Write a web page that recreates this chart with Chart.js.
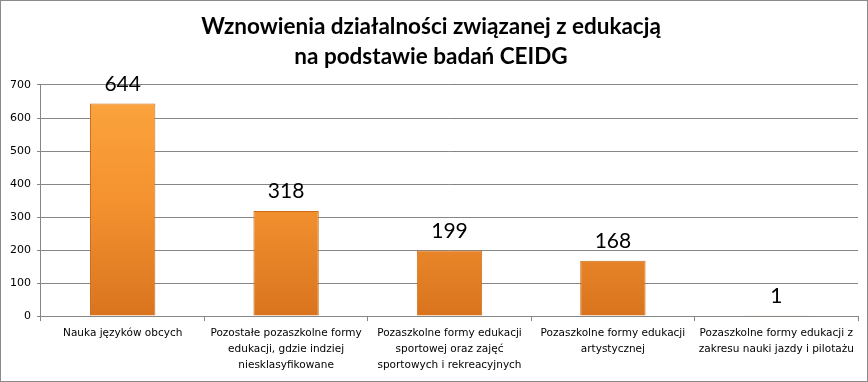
<!DOCTYPE html>
<html>
<head>
<meta charset="utf-8">
<script src="https://cdn.jsdelivr.net/npm/chart.js@4"></script>
<style>
  html,body{margin:0;padding:0;background:#fff}
  #wrap{width:868px;height:382px;box-sizing:border-box;border:1px solid #8a8a8a;position:relative}
  canvas{display:block}
</style>
</head>
<body>
<div id="wrap"><canvas id="chart" width="866" height="380"></canvas></div>
<script>
// ---------- Data ----------
const titleLines = ['Wznowienia działalności związanej z edukacją', 'na podstawie badań CEIDG'];
const categories = [
  'Nauka języków obcych',
  ['Pozostałe pozaszkolne formy', 'edukacji, gdzie indziej', 'niesklasyfikowane'],
  ['Pozaszkolne formy edukacji', 'sportowej oraz zajęć', 'sportowych i rekreacyjnych'],
  ['Pozaszkolne formy edukacji', 'artystycznej'],
  ['Pozaszkolne formy edukacji z', 'zakresu nauki jazdy i pilotażu']
];
const values = [644, 318, 199, 168, 1];
const yTicks = [0, 100, 200, 300, 400, 500, 600, 700];

// ---------- Plugins ----------
// value labels above the bars
const valueLabels = {
  id: 'valueLabels',
  afterDatasetsDraw(chart){
    const ctx = chart.ctx;
    const meta = chart.getDatasetMeta(0);
    ctx.save();
    ctx.font = '21px Lato';
    ctx.fillStyle = '#000';
    ctx.textAlign = 'center';
    ctx.textBaseline = 'bottom';
    meta.data.forEach((bar, i) => {
      ctx.fillText(String(values[i]), bar.x, bar.y - 9);
    });
    ctx.restore();
  }
};

function barFill(context){
  const chart = context.chart;
  const area = chart.chartArea;
  if(!area) return '#f39431';
  const g = chart.ctx.createLinearGradient(0, area.top, 0, area.bottom);
  g.addColorStop(0, '#fca63e');
  g.addColorStop(0.5, '#f49230');
  g.addColorStop(1, '#d9741e');
  return g;
}

// ---------- Chart ----------
const ctx = document.getElementById('chart').getContext('2d');
new Chart(ctx, {
  type: 'bar',
  data: {
    labels: categories,
    datasets: [{
      data: values,
      backgroundColor: barFill,
      borderColor: '#cd6d1b',
      borderWidth: 1,
      borderSkipped: 'bottom',
      categoryPercentage: 1,
      barPercentage: 0.4
    }]
  },
  options: {
    responsive: false,
    animation: false,
    layout: { padding: { left: 3, right: 9, top: 0, bottom: 4 } },
    plugins: {
      legend: { display: false },
      tooltip: { enabled: false },
      title: {
        display: true,
        text: titleLines,
        color: '#000',
        font: { family: 'Lato', size: 22.5, weight: 'bold', lineHeight: 1.333 },
        padding: { top: 11, bottom: 13 }
      }
    },
    scales: {
      x: {
        grid: { offset: true, drawOnChartArea: false, color: '#868686', tickLength: 5 },
        border: { color: '#868686' },
        ticks: {
          color: '#000',
          font: { family: 'DejaVu Sans', size: 10.5, lineHeight: 1.52 },
          maxRotation: 0,
          autoSkip: false,
          padding: 4
        }
      },
      y: {
        min: 0,
        max: 700,
        afterBuildTicks(axis){ axis.ticks = yTicks.map(v => ({ value: v })); },
        grid: { color: '#868686', tickLength: 4 },
        border: { color: '#868686' },
        ticks: {
          color: '#000',
          font: { family: 'DejaVu Sans', size: 11 },
          padding: 6
        }
      }
    }
  },
  plugins: [valueLabels]
});
</script>
</body>
</html>
